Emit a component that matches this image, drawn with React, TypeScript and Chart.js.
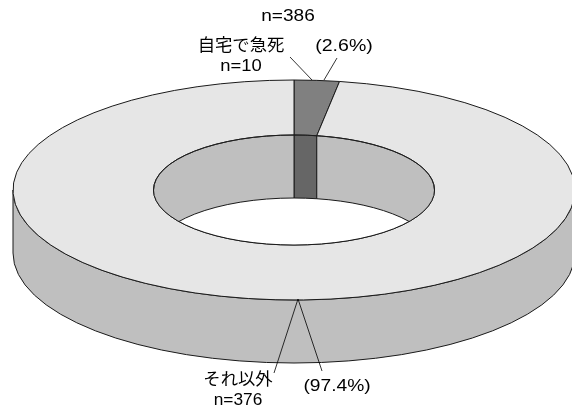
import { useEffect, useRef } from 'react';
import { Chart, registerables } from 'chart.js';

Chart.register(...registerables);

// ---- data ----
const TITLE = 'n=386';
const CATEGORIES = ['自宅で急死', 'それ以外'];
const COUNTS = [10, 376];
const PERCENT_LABELS = ['(2.6%)', '(97.4%)'];

// ---- styles ----
const TOP_COLORS = ['#808080', '#e6e6e6'];
const SIDE_COLORS = ['#666666', '#bfbfbf'];
const LINE_COLOR = '#1a1a1a';
const LATIN_FONT = '16px "Liberation Sans", Arial, sans-serif';
const CJK_FONT = '17px "Noto Sans CJK JP", sans-serif';

// projection of the flat ring into a tilted 3D ring (relative to chart radius)
const PROJ = { sx: 281 / 190, sy: 110 / 190, depth: 63 / 190 };

// annotation layout (label anchors, leader lines)
const TITLE_POS = { x: 288, y: 21, hs: 1.19 };
const NAME_POS = [
  { x: 241, y1: 44.7, y2: 70.5, hs: 1.02, hs2: 1.15 },
  { x: 238, y1: 378.5, y2: 404.5, hs: 1.02, hs2: 1.08 },
];
const PCT_POS = [
  { x: 344, y: 50.5, hs: 1.22 },
  { x: 337, y: 390.5, hs: 1.2 },
];
const LEADERS = [
  [[290, 57, 312, 80], [337, 58, 324, 80]],
  [[274, 373, 298, 299], [322, 371, 298, 299]],
];

const TWO_PI = Math.PI * 2;

function visible(a1: number, a2: number, lo: number, hi: number): number[][] {
  const out: number[][] = [];
  for (let k = -2; k <= 2; k++) {
    const s = Math.max(a1, lo + TWO_PI * k);
    const e = Math.min(a2, hi + TWO_PI * k);
    if (e > s + 1e-6) out.push([s, e]);
  }
  return out;
}

function bandPath(ctx: CanvasRenderingContext2D, cx: number, cy: number, rx: number, ry: number, d: number, s: number, e: number) {
  ctx.beginPath();
  ctx.ellipse(cx, cy, rx, ry, 0, s, e, false);
  ctx.ellipse(cx, cy + d, rx, ry, 0, e, s, true);
  ctx.closePath();
}

const ring3d = {
  id: 'ring3d',
  beforeDatasetsDraw(chart: any) {
    const meta = chart.getDatasetMeta(0);
    const arcs = meta.data as any[];
    if (!arcs.length) return false;
    const ctx: CanvasRenderingContext2D = chart.ctx;
    const cx = arcs[0].x;
    const cy = arcs[0].y;
    const R = arcs[0].outerRadius;
    const r = arcs[0].innerRadius;
    const rx = R * PROJ.sx, ry = R * PROJ.sy;
    const irx = r * PROJ.sx, iry = r * PROJ.sy;
    const d = R * PROJ.depth;
    ctx.save();
    ctx.lineWidth = 1;
    ctx.strokeStyle = LINE_COLOR;
    ctx.lineJoin = 'round';
    // outer front walls
    arcs.forEach((arc, i) => {
      visible(arc.startAngle, arc.endAngle, 0, Math.PI).forEach(([s, e]) => {
        bandPath(ctx, cx, cy, rx, ry, d, s, e);
        ctx.fillStyle = SIDE_COLORS[i];
        ctx.fill();
        ctx.stroke();
      });
    });
    // top faces
    arcs.forEach((arc) => {
      ctx.beginPath();
      ctx.ellipse(cx, cy, rx, ry, 0, arc.startAngle, arc.endAngle, false);
      ctx.ellipse(cx, cy, irx, iry, 0, arc.endAngle, arc.startAngle, true);
      ctx.closePath();
      ctx.fillStyle = arc.options.backgroundColor;
      ctx.fill();
      ctx.stroke();
    });
    // hole: floor + far inner walls
    ctx.save();
    ctx.beginPath();
    ctx.ellipse(cx, cy, irx, iry, 0, 0, TWO_PI);
    ctx.clip();
    ctx.fillStyle = '#ffffff';
    ctx.fill();
    arcs.forEach((arc, i) => {
      visible(arc.startAngle, arc.endAngle, Math.PI, TWO_PI).forEach(([s, e]) => {
        bandPath(ctx, cx, cy, irx, iry, d, s, e);
        ctx.fillStyle = SIDE_COLORS[i];
        ctx.fill();
        ctx.stroke();
      });
    });
    ctx.restore();
    ctx.beginPath();
    ctx.ellipse(cx, cy, irx, iry, 0, 0, TWO_PI);
    ctx.stroke();
    ctx.restore();
    return false;
  },
};

function stretchedText(ctx: CanvasRenderingContext2D, text: string, x: number, y: number, font: string, hs: number, baseline: CanvasTextBaseline) {
  ctx.save();
  ctx.font = font;
  ctx.textAlign = 'center';
  ctx.textBaseline = baseline;
  ctx.fillStyle = '#000';
  ctx.translate(x, y);
  ctx.scale(hs, 1);
  ctx.fillText(text, 0, 0);
  ctx.restore();
}

const labels3d = {
  id: 'labels3d',
  afterDraw(chart: any) {
    const ctx: CanvasRenderingContext2D = chart.ctx;
    stretchedText(ctx, TITLE, TITLE_POS.x, TITLE_POS.y, LATIN_FONT, TITLE_POS.hs, 'alphabetic');
    ctx.save();
    ctx.strokeStyle = '#000';
    ctx.lineWidth = 0.8;
    LEADERS.forEach((group) => {
      group.forEach(([x1, y1, x2, y2]) => {
        ctx.beginPath();
        ctx.moveTo(x1, y1);
        ctx.lineTo(x2, y2);
        ctx.stroke();
      });
    });
    ctx.restore();
    CATEGORIES.forEach((name, i) => {
      const p = NAME_POS[i];
      stretchedText(ctx, name, p.x, p.y1, CJK_FONT, p.hs, 'middle');
      stretchedText(ctx, 'n=' + COUNTS[i], p.x, p.y2, LATIN_FONT, p.hs2, 'alphabetic');
      const q = PCT_POS[i];
      stretchedText(ctx, PERCENT_LABELS[i], q.x, q.y, LATIN_FONT, q.hs, 'alphabetic');
    });
  },
};

export default function App() {
  const ref = useRef<HTMLCanvasElement | null>(null);
  useEffect(() => {
    if (!ref.current) return;
    const chart = new Chart(ref.current, {
      type: 'doughnut',
      data: {
        labels: CATEGORIES,
        datasets: [
          {
            data: COUNTS,
            backgroundColor: TOP_COLORS,
            borderWidth: 0,
          },
        ],
      },
      options: {
        responsive: false,
        animation: false,
        cutout: '50%',
        layout: { padding: { left: 16, right: 0, top: 0, bottom: 26 } },
        plugins: {
          legend: { display: false },
          tooltip: { enabled: false },
          title: { display: false },
        },
        events: [],
      },
      plugins: [ring3d, labels3d],
    });
    return () => chart.destroy();
  }, []);
  return (
    <div style={{ position: 'fixed', left: 0, top: 0, width: 572, height: 406, background: '#fff' }}>
      <canvas ref={ref} width={572} height={406} style={{ display: 'block' }} />
    </div>
  );
}
